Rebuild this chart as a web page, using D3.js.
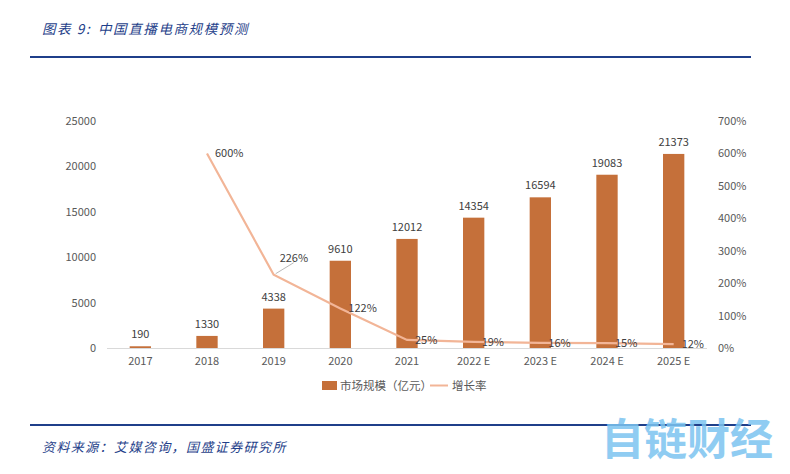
<!DOCTYPE html>
<html><head><meta charset="utf-8">
<script src="https://cdn.jsdelivr.net/npm/d3@7"></script>
<style>
html,body{margin:0;padding:0;background:#fff;}
text{font-family:"Noto Sans CJK SC","Noto Sans",sans-serif;}
</style></head>
<body>
<svg id="c" width="790" height="474"></svg>
<script>
const categories = ["2017","2018","2019","2020","2021","2022 E","2023 E","2024 E","2025 E"];
const marketSize = [190,1330,4338,9610,12012,14354,16594,19083,21373];
const growthRate = [null,600,226,122,25,19,16,15,12];
const leftTicks = [0,5000,10000,15000,20000,25000];
const rightTicks = [0,100,200,300,400,500,600,700];
const titlePrefix = "图表 9:";
const titleText = "中国直播电商规模预测";
const source = "资料来源：艾媒咨询，国盛证券研究所";
const legendLabels = ["市场规模（亿元）","增长率"];

const svg = d3.select("#c");
const navy = "#1f3f8a";
const barColor = "#c5703a";
const lineColor = "#f2b597";
const tickColor = "#595959";

// title and rules
const t = svg.append("text").attr("x",42).attr("y",34).attr("font-size",13.5).attr("font-style","italic")
  .attr("fill",navy).attr("letter-spacing",1.6);
t.append("tspan").text(titlePrefix);
t.append("tspan").attr("x",98).text(titleText);
svg.append("line").attr("x1",30).attr("x2",751).attr("y1",57).attr("y2",57).attr("stroke",navy).attr("stroke-width",2.2);
svg.append("line").attr("x1",30).attr("x2",751).attr("y1",425).attr("y2",425).attr("stroke",navy).attr("stroke-width",2.2);
svg.append("text").attr("x",42).attr("y",452).attr("font-size",13).attr("font-style","italic")
  .attr("fill",navy).attr("letter-spacing",1.4).text(source);
// watermark
svg.append("text").attr("x",601).attr("y",455).attr("font-size",43).attr("font-weight","bold")
  .attr("fill","#7cc4f0").attr("opacity",0.85).text("自链财经");

const x = d3.scaleBand().domain(categories).range([107,707]).paddingInner(0.68).paddingOuter(0.34);
const xc = d => x(d) + x.bandwidth()/2;
const yL = d3.scaleLinear().domain([0,25000]).range([348,121]);
const yR = d3.scaleLinear().domain([0,700]).range([348,121]);

// baseline
svg.append("line").attr("x1",107).attr("x2",707).attr("y1",348.5).attr("y2",348.5).attr("stroke","#d9d9d9");

// left axis
const gl = svg.append("g").attr("transform","translate(96,0)")
  .call(d3.axisLeft(yL).tickValues(leftTicks).tickSize(0).tickPadding(0).tickFormat(d3.format("d")));
gl.select(".domain").remove();
gl.selectAll("text").attr("fill",tickColor).attr("font-size",11).attr("font-family","'Open Sans','Noto Sans',sans-serif");

// right axis
const gr = svg.append("g").attr("transform","translate(718,0)")
  .call(d3.axisRight(yR).tickValues(rightTicks).tickSize(0).tickPadding(0).tickFormat(d => d + "%"));
gr.select(".domain").remove();
gr.selectAll("text").attr("fill",tickColor).attr("font-size",11).attr("font-family","'Open Sans','Noto Sans',sans-serif");

// x axis
const gx = svg.append("g").attr("transform","translate(0,357)")
  .call(d3.axisBottom(x).tickSize(0).tickPadding(0));
gx.select(".domain").remove();
gx.selectAll("text").attr("fill",tickColor).attr("font-size",11).attr("dy","0.71em").attr("font-family","'Open Sans','Noto Sans',sans-serif");

// bars
const data = categories.map((c,i)=>({c, v:marketSize[i], g:growthRate[i]}));
svg.append("g").selectAll("rect").data(data).join("rect")
  .attr("x",d=>x(d.c)).attr("width",x.bandwidth())
  .attr("y",d=>yL(d.v)).attr("height",d=>yL(0)-yL(d.v)).attr("fill",barColor);
svg.append("g").selectAll("text").data(data).join("text")
  .attr("x",d=>xc(d.c)).attr("y",d=>yL(d.v)-8).attr("text-anchor","middle")
  .attr("font-size",11).attr("fill","#404040").attr("font-family","'Open Sans','Noto Sans',sans-serif")
  .text(d=>d.v);

// line
const ld = data.filter(d=>d.g!=null);
svg.append("path").datum(ld)
  .attr("d",d3.line().x(d=>xc(d.c)).y(d=>yR(d.g)))
  .attr("fill","none").attr("stroke",lineColor).attr("stroke-width",2.2);

// leader line for 226%
const p19 = ld.find(d=>d.c==="2019");
svg.append("line").attr("x1",xc(p19.c)+2).attr("y1",yR(p19.g)-1).attr("x2",xc(p19.c)+20).attr("y2",yR(p19.g)-12)
  .attr("stroke","#a6a6a6").attr("stroke-width",0.8);

svg.append("g").selectAll("text").data(ld).join("text")
  .attr("x",d=>xc(d.c) + (d.c==="2019"?6:8))
  .attr("y",d=>yR(d.g) + (d.c==="2019"?-17:0))
  .attr("dy","0.35em")
  .attr("font-size",11).attr("fill","#404040").attr("font-family","'Open Sans','Noto Sans',sans-serif")
  .text(d=>d.g+"%");

// legend
const lg = svg.append("g");
lg.append("rect").attr("x",322).attr("y",381).attr("width",15).attr("height",9).attr("fill",barColor);
lg.append("text").attr("x",340).attr("y",390).attr("font-size",11.5).attr("fill",tickColor).text(legendLabels[0]);
lg.append("line").attr("x1",430).attr("x2",448).attr("y1",385.5).attr("y2",385.5).attr("stroke",lineColor).attr("stroke-width",2);
lg.append("text").attr("x",452).attr("y",390).attr("font-size",11.5).attr("fill",tickColor).text(legendLabels[1]);
</script>
</body></html>
